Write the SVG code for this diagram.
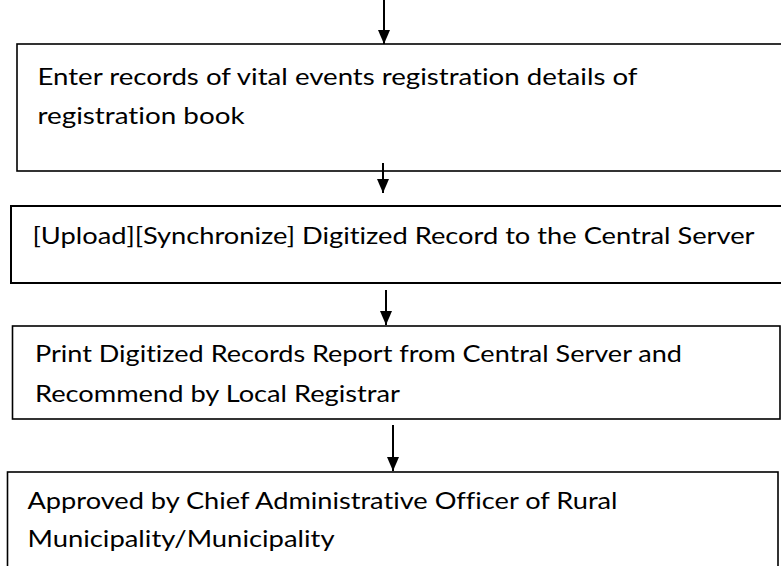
<svg xmlns="http://www.w3.org/2000/svg" width="781" height="566" viewBox="0 0 781 566">
<defs>
<marker id="ah" viewBox="0 0 14 12" refX="14" refY="6" markerWidth="14" markerHeight="12" markerUnits="userSpaceOnUse" orient="auto">
<path d="M0,0 L14,6 L0,12 Z" fill="#000"/>
</marker>
</defs>
<style>
.box{fill:#fff;stroke:#000;stroke-width:1.6}
.t{font-family:Lato,"Open Sans","Liberation Sans",sans-serif;font-size:23px;fill:#000;font-variant-ligatures:none}
.c{stroke:#000;stroke-width:2;fill:none}
</style>
<rect width="781" height="566" fill="#fff"/>
<g id="node1">
<rect class="box" x="17" y="44" width="790" height="127"/>
<text class="t" x="37.5" y="85" textLength="600" lengthAdjust="spacingAndGlyphs">Enter records of vital events registration details of</text>
<text class="t" x="37.5" y="124" textLength="207" lengthAdjust="spacingAndGlyphs">registration book</text>
</g>
<g id="node2">
<rect class="box" x="11" y="206" width="790" height="77" style="stroke-width:2"/>
<text class="t" x="32.5" y="244" textLength="722" lengthAdjust="spacingAndGlyphs">[Upload][Synchronize] Digitized Record to the Central Server</text>
</g>
<g id="node3">
<rect class="box" x="12.5" y="326" width="767.5" height="93"/>
<text class="t" x="35" y="362" textLength="647" lengthAdjust="spacingAndGlyphs">Print Digitized Records Report from Central Server and</text>
<text class="t" x="35" y="402" textLength="365" lengthAdjust="spacingAndGlyphs">Recommend by Local Registrar</text>
</g>
<g id="node4">
<rect class="box" x="7.5" y="472" width="770.5" height="120"/>
<text class="t" x="27.5" y="509" textLength="590" lengthAdjust="spacingAndGlyphs">Approved by Chief Administrative Officer of Rural</text>
<text class="t" x="27.5" y="547" textLength="307" lengthAdjust="spacingAndGlyphs">Municipality/Municipality</text>
</g>
<g id="connectors">
<line class="c" x1="384" y1="0" x2="384" y2="44" marker-end="url(#ah)"/>
<line class="c" x1="383" y1="163" x2="383" y2="193" marker-end="url(#ah)"/>
<line class="c" x1="386" y1="290" x2="386" y2="325" marker-end="url(#ah)"/>
<line class="c" x1="393" y1="425" x2="393" y2="471" marker-end="url(#ah)"/>
</g>
</svg>
